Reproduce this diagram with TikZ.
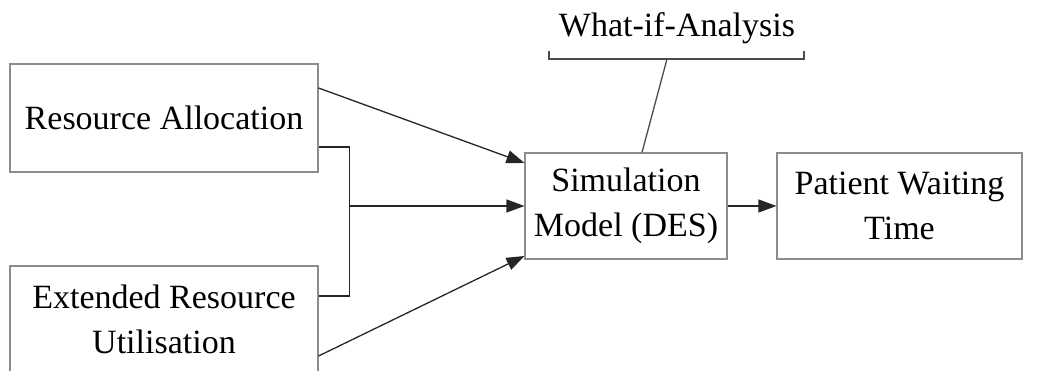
\documentclass[tikz,border=0pt]{standalone}
\usepackage{fontspec}
\setmainfont{Liberation Serif}
\usetikzlibrary{arrows.meta,calc}
\begin{document}
\begin{tikzpicture}[x=1pt,y=1pt,
  box/.style={draw=black!45, line width=1.1pt, fill=white, inner sep=0pt, align=center,
              font=\fontsize{34}{45}\selectfont},
  conn/.style={draw=black!85, line width=1.3pt},
  arr/.style={conn, -{Triangle[length=18pt,width=13pt]}},
  lbl/.style={font=\fontsize{34}{45}\selectfont, inner sep=0pt}]
\useasboundingbox (0,0) rectangle (1042,371);
% nodes (y = 371 - pixel y)
\node[box, minimum width=308, minimum height=108] (ra) at (164,253) {Resource Allocation};
\node[box, minimum width=308, minimum height=106] (eru) at (164,52) {Extended Resource\\Utilisation};
\node[box, minimum width=202, minimum height=106] (sim) at (626,165) {Simulation\\Model (DES)};
\node[box, minimum width=245, minimum height=106] (pwt) at (899.5,165) {Patient Waiting\\Time};
\node[lbl] (wia) at (677,343) {What-if-Analysis};
% connectors
\draw[arr] ([yshift=30]ra.east) -- ([yshift=43]sim.west);
\draw[arr] ([yshift=-37]eru.east) -- ([yshift=-50]sim.west);
\coordinate (j1) at ([xshift=31,yshift=-29]ra.east);
\coordinate (j2) at ([xshift=31,yshift=23]eru.east);
\draw[conn] ([yshift=-29]ra.east) -- (j1) -- (j2) -- ([yshift=23]eru.east);
\draw[arr] (j1 |- sim.west) -- (sim.west);
\draw[arr] (sim.east) -- (pwt.west);
% what-if bracket
\coordinate (bl) at (549,312);
\coordinate (br) at (804,312);
\coordinate (bm) at (667,312);
\draw[conn, draw=black!70] ([yshift=8]bl) -- (bl) -- (br) -- ([yshift=8]br);
\draw[conn, draw=black!70] (bm) -- ([xshift=16]sim.north);
\end{tikzpicture}
\end{document}
